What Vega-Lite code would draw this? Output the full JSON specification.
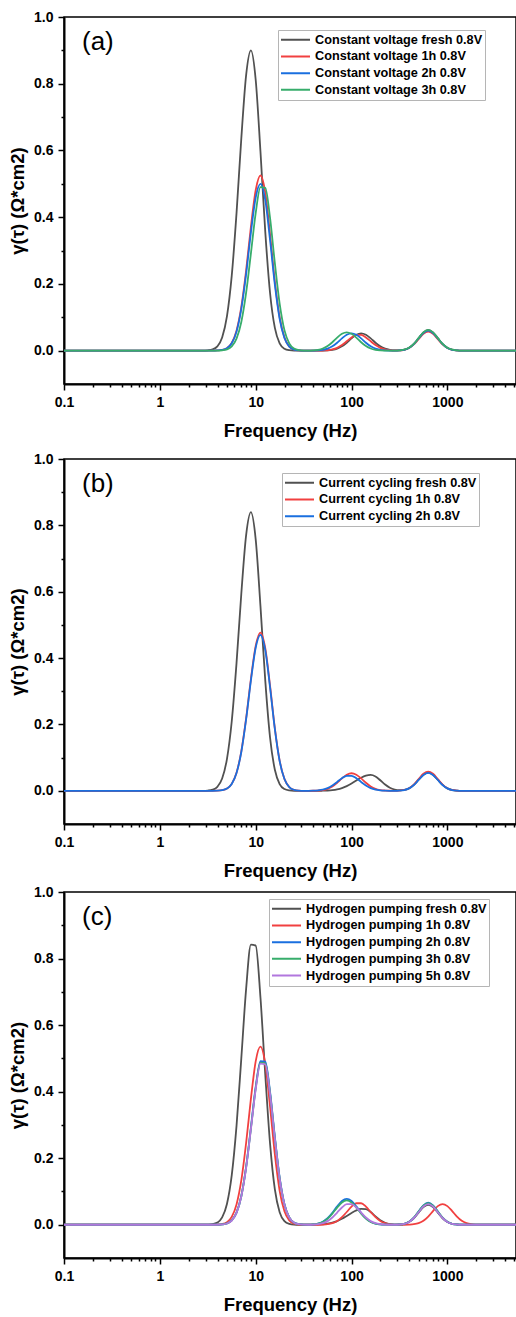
{
"$schema": "https://vega.github.io/schema/vega-lite/v6.json",
"padding": {"left": 7, "top": 9, "right": 0, "bottom": 0},
"config": {
 "font": "Liberation Sans",
 "view": {"stroke": "black", "strokeWidth": 1.5},
 "axis": {"domainColor": "black", "domainWidth": 2, "tickColor": "black", "tickWidth": 1.5, "labelFont": "Liberation Sans", "labelFontSize": 14, "labelFontWeight": "bold", "labelColor": "black", "titleFont": "Liberation Sans", "titleFontSize": 18.5, "titleFontWeight": "bold", "titleColor": "black", "grid": false, "labelFlush": false, "labelOverlap": false},
 "legend": {"orient": "none", "title": null, "symbolType": "stroke", "symbolSize": 841, "symbolStrokeWidth": 2, "clipHeight": 15.5, "labelFont": "Liberation Sans", "labelFontSize": 12.7, "labelFontWeight": "bold", "labelColor": "black", "strokeColor": "#b5b5b5", "fillColor": "white", "padding": 2, "rowPadding": 0.7, "labelOffset": 4, "labelLimit": 400},
 "title": {"anchor": "start", "frame": "group", "fontSize": 26, "fontWeight": "normal", "font": "Liberation Sans", "color": "black", "offset": -45, "dx": 18}
},
"datasets": {
 "A": [
  {"f":0.1,"fresh":0,"1h":0,"2h":0,"3h":0},
  {"f":2.818,"fresh":0,"1h":0,"2h":0,"3h":0},
  {"f":3.162,"fresh":0.001,"1h":0,"2h":0,"3h":0},
  {"f":3.548,"fresh":0.0035,"1h":0,"2h":0,"3h":0},
  {"f":3.981,"fresh":0.0128,"1h":0.0005,"2h":0.0005,"3h":0},
  {"f":4.467,"fresh":0.0395,"1h":0.002,"2h":0.002,"3h":0.001},
  {"f":5.012,"fresh":0.1026,"1h":0.0075,"2h":0.0071,"3h":0.0038},
  {"f":5.623,"fresh":0.224,"1h":0.023,"2h":0.022,"3h":0.0128},
  {"f":6.31,"fresh":0.412,"1h":0.0599,"2h":0.057,"3h":0.036},
  {"f":7.079,"fresh":0.636,"1h":0.131,"2h":0.125,"3h":0.086},
  {"f":7.943,"fresh":0.825,"1h":0.24,"2h":0.229,"3h":0.173},
  {"f":8.913,"fresh":0.9,"1h":0.371,"2h":0.354,"3h":0.291},
  {"f":10,"fresh":0.812,"1h":0.481,"2h":0.459,"3h":0.412},
  {"f":11.22,"fresh":0.596,"1h":0.525,"2h":0.5,"3h":0.49},
  {"f":12.59,"fresh":0.356,"1h":0.474,"2h":0.451,"3h":0.488},
  {"f":14.13,"fresh":0.172,"1h":0.348,"2h":0.331,"3h":0.397},
  {"f":15.85,"fresh":0.068,"1h":0.207,"2h":0.198,"3h":0.262},
  {"f":17.78,"fresh":0.0219,"1h":0.1,"2h":0.0955,"3h":0.141},
  {"f":19.95,"fresh":0.0057,"1h":0.0397,"2h":0.0378,"3h":0.0615},
  {"f":22.39,"fresh":0.0012,"1h":0.0128,"2h":0.0122,"3h":0.022},
  {"f":25.12,"fresh":0,"1h":0.0033,"2h":0.0032,"3h":0.0064},
  {"f":28.18,"fresh":0,"1h":0.0007,"2h":0.0007,"3h":0.0015},
  {"f":31.62,"fresh":0,"1h":0,"2h":0,"3h":0.0003},
  {"f":35.48,"fresh":0,"1h":0,"2h":0,"3h":0.0002},
  {"f":39.81,"fresh":0,"1h":0,"2h":0.0002,"3h":0.0008},
  {"f":44.67,"fresh":0,"1h":0,"2h":0.0007,"3h":0.0024},
  {"f":50.12,"fresh":0.0002,"1h":0.0004,"2h":0.0023,"3h":0.0063},
  {"f":56.23,"fresh":0.0007,"1h":0.0012,"2h":0.0059,"3h":0.0137},
  {"f":63.1,"fresh":0.0023,"1h":0.0035,"2h":0.0129,"3h":0.0252},
  {"f":70.79,"fresh":0.0059,"1h":0.0083,"2h":0.0238,"3h":0.0389},
  {"f":79.43,"fresh":0.0129,"1h":0.0166,"2h":0.0368,"3h":0.0504},
  {"f":89.13,"fresh":0.0238,"1h":0.0279,"2h":0.0477,"3h":0.055},
  {"f":100,"fresh":0.0368,"1h":0.0395,"2h":0.052,"3h":0.0504},
  {"f":112.2,"fresh":0.0477,"1h":0.047,"2h":0.0477,"3h":0.0389},
  {"f":125.9,"fresh":0.052,"1h":0.047,"2h":0.0368,"3h":0.0252},
  {"f":141.3,"fresh":0.0477,"1h":0.0395,"2h":0.0238,"3h":0.0137},
  {"f":158.5,"fresh":0.0368,"1h":0.0279,"2h":0.0129,"3h":0.0063},
  {"f":177.8,"fresh":0.0238,"1h":0.0166,"2h":0.0059,"3h":0.0024},
  {"f":199.5,"fresh":0.0129,"1h":0.0083,"2h":0.0023,"3h":0.0008},
  {"f":223.9,"fresh":0.0059,"1h":0.0035,"2h":0.0007,"3h":0.0002},
  {"f":251.2,"fresh":0.0023,"1h":0.0012,"2h":0.0002,"3h":0},
  {"f":281.8,"fresh":0.0007,"1h":0.0004,"2h":0,"3h":0},
  {"f":316.2,"fresh":0.0009,"1h":0.0006,"2h":0.0007,"3h":0.0007},
  {"f":354.8,"fresh":0.0027,"1h":0.0025,"2h":0.0026,"3h":0.0027},
  {"f":398.1,"fresh":0.0084,"1h":0.0077,"2h":0.0081,"3h":0.0084},
  {"f":446.7,"fresh":0.0202,"1h":0.0185,"2h":0.0195,"3h":0.0202},
  {"f":501.2,"fresh":0.0376,"1h":0.0346,"2h":0.0364,"3h":0.0376},
  {"f":562.3,"fresh":0.0547,"1h":0.0503,"2h":0.0529,"3h":0.0547},
  {"f":631,"fresh":0.062,"1h":0.057,"2h":0.06,"3h":0.062},
  {"f":707.9,"fresh":0.0547,"1h":0.0503,"2h":0.0529,"3h":0.0547},
  {"f":794.3,"fresh":0.0376,"1h":0.0346,"2h":0.0364,"3h":0.0376},
  {"f":891.3,"fresh":0.0202,"1h":0.0185,"2h":0.0195,"3h":0.0202},
  {"f":1000,"fresh":0.0084,"1h":0.0077,"2h":0.0081,"3h":0.0084},
  {"f":1122,"fresh":0.0027,"1h":0.0025,"2h":0.0026,"3h":0.0027},
  {"f":1259,"fresh":0.0007,"1h":0.0006,"2h":0.0007,"3h":0.0007},
  {"f":1413,"fresh":0,"1h":0,"2h":0,"3h":0},
  {"f":5200,"fresh":0,"1h":0,"2h":0,"3h":0}
 ],
 "B": [
  {"f":0.1,"fresh":0,"1h":0,"2h":0},
  {"f":2.818,"fresh":0,"1h":0,"2h":0},
  {"f":3.162,"fresh":0.0008,"1h":0,"2h":0},
  {"f":3.548,"fresh":0.0033,"1h":0,"2h":0},
  {"f":3.981,"fresh":0.0119,"1h":0.0004,"2h":0.0004},
  {"f":4.467,"fresh":0.0369,"1h":0.0019,"2h":0.0018},
  {"f":5.012,"fresh":0.0958,"1h":0.0068,"2h":0.0067},
  {"f":5.623,"fresh":0.209,"1h":0.0209,"2h":0.0206},
  {"f":6.31,"fresh":0.385,"1h":0.0544,"2h":0.0536},
  {"f":7.079,"fresh":0.594,"1h":0.119,"2h":0.117},
  {"f":7.943,"fresh":0.77,"1h":0.218,"2h":0.215},
  {"f":8.913,"fresh":0.84,"1h":0.337,"2h":0.332},
  {"f":10,"fresh":0.758,"1h":0.437,"2h":0.431},
  {"f":11.22,"fresh":0.556,"1h":0.477,"2h":0.47},
  {"f":12.59,"fresh":0.332,"1h":0.43,"2h":0.424},
  {"f":14.13,"fresh":0.16,"1h":0.316,"2h":0.311},
  {"f":15.85,"fresh":0.0635,"1h":0.188,"2h":0.186},
  {"f":17.78,"fresh":0.0204,"1h":0.0911,"2h":0.0898},
  {"f":19.95,"fresh":0.0053,"1h":0.0361,"2h":0.0355},
  {"f":22.39,"fresh":0.0011,"1h":0.0116,"2h":0.0114},
  {"f":25.12,"fresh":0,"1h":0.003,"2h":0.003},
  {"f":28.18,"fresh":0,"1h":0.0006,"2h":0.0006},
  {"f":31.62,"fresh":0,"1h":0,"2h":0},
  {"f":35.48,"fresh":0,"1h":0,"2h":0},
  {"f":39.81,"fresh":0,"1h":0.0002,"2h":0.0003},
  {"f":44.67,"fresh":0,"1h":0.0008,"2h":0.0012},
  {"f":50.12,"fresh":0.0004,"1h":0.0023,"2h":0.0033},
  {"f":56.23,"fresh":0.0009,"1h":0.006,"2h":0.0079},
  {"f":63.1,"fresh":0.0021,"1h":0.0132,"2h":0.0159},
  {"f":70.79,"fresh":0.0044,"1h":0.0243,"2h":0.0267},
  {"f":79.43,"fresh":0.0083,"1h":0.0375,"2h":0.0379},
  {"f":89.13,"fresh":0.0142,"1h":0.0486,"2h":0.045},
  {"f":100,"fresh":0.022,"1h":0.053,"2h":0.045},
  {"f":112.2,"fresh":0.031,"1h":0.0486,"2h":0.0379},
  {"f":125.9,"fresh":0.0395,"1h":0.0375,"2h":0.0267},
  {"f":141.3,"fresh":0.0457,"1h":0.0243,"2h":0.0159},
  {"f":158.5,"fresh":0.048,"1h":0.0132,"2h":0.0079},
  {"f":177.8,"fresh":0.0433,"1h":0.006,"2h":0.0033},
  {"f":199.5,"fresh":0.0318,"1h":0.0023,"2h":0.0012},
  {"f":223.9,"fresh":0.019,"1h":0.0008,"2h":0.0003},
  {"f":251.2,"fresh":0.0092,"1h":0.0002,"2h":0},
  {"f":281.8,"fresh":0.0037,"1h":0,"2h":0},
  {"f":316.2,"fresh":0.0018,"1h":0.0006,"2h":0.0006},
  {"f":354.8,"fresh":0.0027,"1h":0.0025,"2h":0.0024},
  {"f":398.1,"fresh":0.0074,"1h":0.0078,"2h":0.0073},
  {"f":446.7,"fresh":0.0179,"1h":0.0189,"2h":0.0176},
  {"f":501.2,"fresh":0.0334,"1h":0.0352,"2h":0.0328},
  {"f":562.3,"fresh":0.0485,"1h":0.0512,"2h":0.0476},
  {"f":631,"fresh":0.055,"1h":0.058,"2h":0.054},
  {"f":707.9,"fresh":0.0485,"1h":0.0512,"2h":0.0476},
  {"f":794.3,"fresh":0.0334,"1h":0.0352,"2h":0.0328},
  {"f":891.3,"fresh":0.0179,"1h":0.0189,"2h":0.0176},
  {"f":1000,"fresh":0.0074,"1h":0.0078,"2h":0.0073},
  {"f":1122,"fresh":0.0024,"1h":0.0025,"2h":0.0024},
  {"f":1259,"fresh":0.0006,"1h":0.0006,"2h":0.0006},
  {"f":1413,"fresh":0,"1h":0,"2h":0},
  {"f":5200,"fresh":0,"1h":0,"2h":0}
 ],
 "C": [
  {"f":0.1,"fresh":0,"1h":0,"2h":0,"3h":0,"5h":0},
  {"f":2.818,"fresh":0,"1h":0,"2h":0,"3h":0,"5h":0},
  {"f":3.162,"fresh":0.0004,"1h":0,"2h":0,"3h":0,"5h":0},
  {"f":3.548,"fresh":0.0016,"1h":0,"2h":0,"3h":0,"5h":0},
  {"f":3.981,"fresh":0.0065,"1h":0.0005,"2h":0,"3h":0,"5h":0},
  {"f":4.467,"fresh":0.022,"1h":0.0021,"2h":0.001,"3h":0.001,"5h":0.0009},
  {"f":5.012,"fresh":0.0623,"1h":0.0076,"2h":0.0038,"3h":0.0038,"5h":0.0038},
  {"f":5.623,"fresh":0.148,"1h":0.0235,"2h":0.0128,"3h":0.0127,"5h":0.0126},
  {"f":6.31,"fresh":0.297,"1h":0.061,"2h":0.0364,"3h":0.036,"5h":0.0358},
  {"f":7.079,"fresh":0.5,"1h":0.133,"2h":0.0865,"3h":0.0856,"5h":0.085},
  {"f":7.943,"fresh":0.708,"1h":0.245,"2h":0.174,"3h":0.172,"5h":0.17},
  {"f":8.913,"fresh":0.842,"1h":0.378,"2h":0.292,"3h":0.289,"5h":0.287},
  {"f":10,"fresh":0.839,"1h":0.491,"2h":0.414,"3h":0.41,"5h":0.407},
  {"f":11.22,"fresh":0.682,"1h":0.535,"2h":0.492,"3h":0.487,"5h":0.484},
  {"f":12.59,"fresh":0.451,"1h":0.483,"2h":0.49,"3h":0.485,"5h":0.482},
  {"f":14.13,"fresh":0.243,"1h":0.354,"2h":0.399,"3h":0.395,"5h":0.392},
  {"f":15.85,"fresh":0.106,"1h":0.211,"2h":0.264,"3h":0.261,"5h":0.259},
  {"f":17.78,"fresh":0.0378,"1h":0.102,"2h":0.142,"3h":0.14,"5h":0.139},
  {"f":19.95,"fresh":0.0109,"1h":0.0404,"2h":0.0619,"3h":0.0613,"5h":0.0608},
  {"f":22.39,"fresh":0.0026,"1h":0.013,"2h":0.0221,"3h":0.0219,"5h":0.0217},
  {"f":25.12,"fresh":0.0005,"1h":0.0034,"2h":0.0064,"3h":0.0063,"5h":0.0063},
  {"f":28.18,"fresh":0,"1h":0.0007,"2h":0.0015,"3h":0.0015,"5h":0.0015},
  {"f":31.62,"fresh":0,"1h":0,"2h":0.0003,"3h":0.0003,"5h":0.0003},
  {"f":35.48,"fresh":0,"1h":0,"2h":0.0003,"3h":0.0003,"5h":0},
  {"f":39.81,"fresh":0,"1h":0,"2h":0.0011,"3h":0.001,"5h":0.0005},
  {"f":44.67,"fresh":0.0006,"1h":0,"2h":0.0034,"3h":0.0032,"5h":0.0016},
  {"f":50.12,"fresh":0.0014,"1h":0.0005,"2h":0.0089,"3h":0.0083,"5h":0.0046},
  {"f":56.23,"fresh":0.0031,"1h":0.0017,"2h":0.0194,"3h":0.0182,"5h":0.0108},
  {"f":63.1,"fresh":0.0061,"1h":0.0048,"2h":0.0357,"3h":0.0334,"5h":0.0217},
  {"f":70.79,"fresh":0.011,"1h":0.0114,"2h":0.0551,"3h":0.0516,"5h":0.0366},
  {"f":79.43,"fresh":0.0179,"1h":0.0228,"2h":0.0715,"3h":0.0669,"5h":0.0518},
  {"f":89.13,"fresh":0.0264,"1h":0.0383,"2h":0.078,"3h":0.073,"5h":0.0617},
  {"f":100,"fresh":0.0354,"1h":0.0543,"2h":0.0715,"3h":0.0669,"5h":0.0617},
  {"f":112.2,"fresh":0.043,"1h":0.0646,"2h":0.0551,"3h":0.0516,"5h":0.0518},
  {"f":125.9,"fresh":0.0474,"1h":0.0646,"2h":0.0357,"3h":0.0334,"5h":0.0366},
  {"f":141.3,"fresh":0.0468,"1h":0.0543,"2h":0.0194,"3h":0.0182,"5h":0.0217},
  {"f":158.5,"fresh":0.0381,"1h":0.0383,"2h":0.0089,"3h":0.0083,"5h":0.0108},
  {"f":177.8,"fresh":0.0252,"1h":0.0228,"2h":0.0034,"3h":0.0032,"5h":0.0046},
  {"f":199.5,"fresh":0.0135,"1h":0.0114,"2h":0.0011,"3h":0.001,"5h":0.0016},
  {"f":223.9,"fresh":0.0059,"1h":0.0048,"2h":0.0003,"3h":0.0003,"5h":0.0005},
  {"f":251.2,"fresh":0.0021,"1h":0.0017,"2h":0,"3h":0,"5h":0},
  {"f":281.8,"fresh":0.0006,"1h":0.0005,"2h":0,"3h":0,"5h":0},
  {"f":316.2,"fresh":0.0008,"1h":0,"2h":0.0007,"3h":0.0007,"5h":0.0007},
  {"f":354.8,"fresh":0.0026,"1h":0,"2h":0.0029,"3h":0.0029,"5h":0.0027},
  {"f":398.1,"fresh":0.0081,"1h":0.0004,"2h":0.0089,"3h":0.0088,"5h":0.0084},
  {"f":446.7,"fresh":0.0195,"1h":0.0015,"2h":0.0215,"3h":0.0211,"5h":0.0202},
  {"f":501.2,"fresh":0.0364,"1h":0.0047,"2h":0.0401,"3h":0.0395,"5h":0.0376},
  {"f":562.3,"fresh":0.0529,"1h":0.0118,"2h":0.0582,"3h":0.0573,"5h":0.0547},
  {"f":631,"fresh":0.06,"1h":0.0245,"2h":0.066,"3h":0.065,"5h":0.062},
  {"f":707.9,"fresh":0.0529,"1h":0.041,"2h":0.0582,"3h":0.0573,"5h":0.0547},
  {"f":794.3,"fresh":0.0364,"1h":0.0559,"2h":0.0401,"3h":0.0395,"5h":0.0376},
  {"f":891.3,"fresh":0.0195,"1h":0.062,"2h":0.0215,"3h":0.0211,"5h":0.0202},
  {"f":1000,"fresh":0.0081,"1h":0.0559,"2h":0.0089,"3h":0.0088,"5h":0.0084},
  {"f":1122,"fresh":0.0026,"1h":0.041,"2h":0.0029,"3h":0.0029,"5h":0.0027},
  {"f":1259,"fresh":0.0007,"1h":0.0245,"2h":0.0007,"3h":0.0007,"5h":0.0007},
  {"f":1413,"fresh":0,"1h":0.0118,"2h":0,"3h":0,"5h":0},
  {"f":1585,"fresh":0,"1h":0.0047,"2h":0,"3h":0,"5h":0},
  {"f":1778,"fresh":0,"1h":0.0015,"2h":0,"3h":0,"5h":0},
  {"f":1995,"fresh":0,"1h":0.0004,"2h":0,"3h":0,"5h":0},
  {"f":2239,"fresh":0,"1h":0,"2h":0,"3h":0,"5h":0},
  {"f":5200,"fresh":0,"1h":0,"2h":0,"3h":0,"5h":0}
 ]
},
"resolve": {"scale": {"color": "independent"}},
"spacing": 10,
"vconcat": [
 {
  "data": {"name": "A"},
  "transform": [{"fold": ["fresh","1h","2h","3h"], "as": ["series","v"]}],
  "width": 452, "height": 367,
  "title": {"text": "(a)"},
  "mark": {"type": "line", "strokeWidth": 1.8, "interpolate": "monotone"},
  "encoding": {
   "x": {"field": "f", "type": "quantitative", "scale": {"type": "log", "domain": [0.1, 5200], "nice": false}, "axis": {"values": [0.1,0.2,0.3,0.4,0.5,0.6,0.7,0.8,0.9,1,2,3,4,5,6,7,8,9,10,20,30,40,50,60,70,80,90,100,200,300,400,500,600,700,800,900,1000,2000,3000,4000,5000], "format": "~g", "labelExpr": "indexof([0.1,1,10,100,1000], datum.value) >= 0 ? datum.label : ''", "tickSize": {"condition": {"test": "indexof([0.1,1,10,100,1000], datum.value) >= 0", "value": 6}, "value": 3}, "labelPadding": 5, "title": "Frequency (Hz)", "titlePadding": 12}},
   "y": {"field": "v", "type": "quantitative", "scale": {"domain": [-0.1, 1.0], "nice": false, "zero": false}, "axis": {"values": [0,0.1,0.2,0.3,0.4,0.5,0.6,0.7,0.8,0.9,1.0], "format": ".1f", "labelExpr": "indexof([0,0.2,0.4,0.6,0.8,1], datum.value) >= 0 ? datum.label : ''", "tickSize": {"condition": {"test": "indexof([0,0.2,0.4,0.6,0.8,1], datum.value) >= 0", "value": 6}, "value": 3}, "labelPadding": 5, "title": "γ(τ) (Ω*cm2)", "titlePadding": 6}},
   "color": {"field": "series", "type": "nominal", "scale": {"domain": ["fresh","1h","2h","3h"], "range": ["#515151","#F14040","#1A6FDF","#37AD6B"]}, "legend": {"legendX": 214, "legendY": 13, "labelExpr": "'Constant voltage ' + datum.label + ' 0.8V'"}}
  }
 },
 {
  "spacing": 3,
  "resolve": {"scale": {"color": "independent"}},
  "vconcat": [
   {
    "data": {"name": "B"},
    "transform": [{"fold": ["fresh","1h","2h"], "as": ["series","v"]}],
    "width": 452, "height": 365,
    "title": {"text": "(b)"},
    "mark": {"type": "line", "strokeWidth": 1.8, "interpolate": "monotone"},
    "encoding": {
     "x": {"field": "f", "type": "quantitative", "scale": {"type": "log", "domain": [0.1, 5200], "nice": false}, "axis": {"values": [0.1,0.2,0.3,0.4,0.5,0.6,0.7,0.8,0.9,1,2,3,4,5,6,7,8,9,10,20,30,40,50,60,70,80,90,100,200,300,400,500,600,700,800,900,1000,2000,3000,4000,5000], "format": "~g", "labelExpr": "indexof([0.1,1,10,100,1000], datum.value) >= 0 ? datum.label : ''", "tickSize": {"condition": {"test": "indexof([0.1,1,10,100,1000], datum.value) >= 0", "value": 6}, "value": 3}, "labelPadding": 5, "title": "Frequency (Hz)", "titlePadding": 12}},
     "y": {"field": "v", "type": "quantitative", "scale": {"domain": [-0.1, 1.0], "nice": false, "zero": false}, "axis": {"values": [0,0.1,0.2,0.3,0.4,0.5,0.6,0.7,0.8,0.9,1.0], "format": ".1f", "labelExpr": "indexof([0,0.2,0.4,0.6,0.8,1], datum.value) >= 0 ? datum.label : ''", "tickSize": {"condition": {"test": "indexof([0,0.2,0.4,0.6,0.8,1], datum.value) >= 0", "value": 6}, "value": 3}, "labelPadding": 5, "title": "γ(τ) (Ω*cm2)", "titlePadding": 6}},
     "color": {"field": "series", "type": "nominal", "scale": {"domain": ["fresh","1h","2h"], "range": ["#515151","#F14040","#1A6FDF"]}, "legend": {"legendX": 218, "legendY": 14, "labelExpr": "'Current cycling ' + datum.label + ' 0.8V'"}}
    }
   },
   {
    "data": {"name": "C"},
    "transform": [{"fold": ["fresh","1h","2h","3h","5h"], "as": ["series","v"]}],
    "width": 452, "height": 366,
    "title": {"text": "(c)"},
    "mark": {"type": "line", "strokeWidth": 1.8, "interpolate": "monotone"},
    "encoding": {
     "x": {"field": "f", "type": "quantitative", "scale": {"type": "log", "domain": [0.1, 5200], "nice": false}, "axis": {"values": [0.1,0.2,0.3,0.4,0.5,0.6,0.7,0.8,0.9,1,2,3,4,5,6,7,8,9,10,20,30,40,50,60,70,80,90,100,200,300,400,500,600,700,800,900,1000,2000,3000,4000,5000], "format": "~g", "labelExpr": "indexof([0.1,1,10,100,1000], datum.value) >= 0 ? datum.label : ''", "tickSize": {"condition": {"test": "indexof([0.1,1,10,100,1000], datum.value) >= 0", "value": 6}, "value": 3}, "labelPadding": 5, "title": "Frequency (Hz)", "titlePadding": 12}},
     "y": {"field": "v", "type": "quantitative", "scale": {"domain": [-0.1, 1.0], "nice": false, "zero": false}, "axis": {"values": [0,0.1,0.2,0.3,0.4,0.5,0.6,0.7,0.8,0.9,1.0], "format": ".1f", "labelExpr": "indexof([0,0.2,0.4,0.6,0.8,1], datum.value) >= 0 ? datum.label : ''", "tickSize": {"condition": {"test": "indexof([0,0.2,0.4,0.6,0.8,1], datum.value) >= 0", "value": 6}, "value": 3}, "labelPadding": 5, "title": "γ(τ) (Ω*cm2)", "titlePadding": 6}},
     "color": {"field": "series", "type": "nominal", "scale": {"domain": ["fresh","1h","2h","3h","5h"], "range": ["#515151","#F14040","#1A6FDF","#37AD6B","#B177DE"]}, "legend": {"legendX": 205, "legendY": 7, "labelExpr": "'Hydrogen pumping ' + datum.label + ' 0.8V'"}}
    }
   }
  ]
 }
]
}
